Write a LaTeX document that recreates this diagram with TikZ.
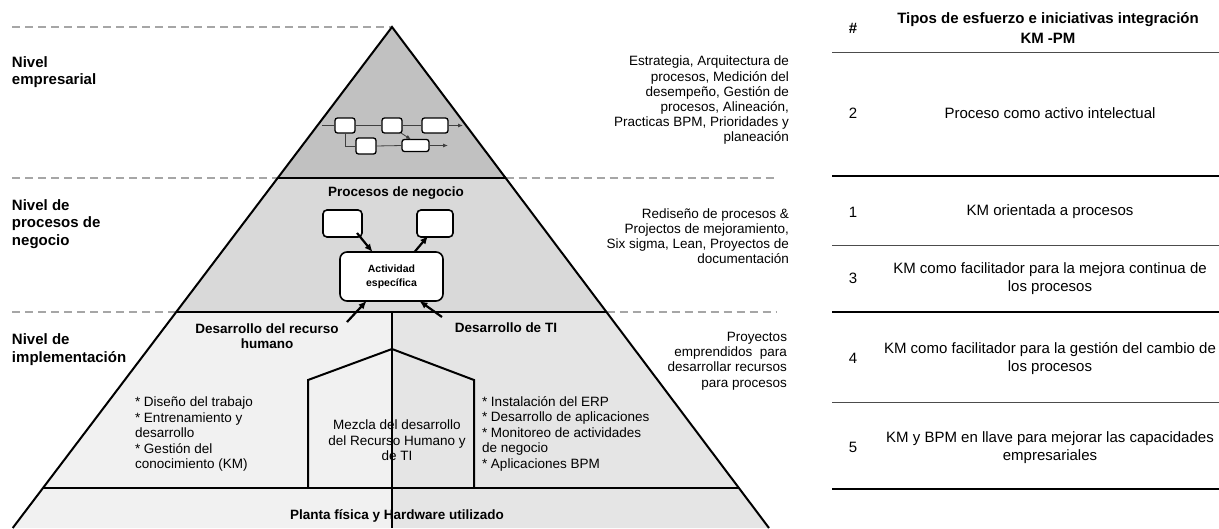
\documentclass[tikz,border=0pt]{standalone}
\usepackage{fontspec}
\setmainfont{Liberation Sans}
\usetikzlibrary{arrows.meta,calc}
\definecolor{topgray}{gray}{0.755}
\definecolor{midgray}{gray}{0.85}
\definecolor{lowlight}{gray}{0.945}
\definecolor{lowdark}{gray}{0.9}
\definecolor{guidegray}{gray}{0.65}
\begin{document}
\begin{tikzpicture}[x=1pt,y=-1pt,
  every node/.style={inner sep=0pt, outer sep=0pt},
  lvl/.style={font=\fontsize{15}{17.5}\selectfont\bfseries, align=left, anchor=west},
  desc/.style={font=\fontsize{13.5}{15.2}\selectfont, align=right, anchor=east},
  head/.style={font=\fontsize{13.5}{15.5}\selectfont\bfseries, align=center},
  body/.style={font=\fontsize{13.5}{15.5}\selectfont},
  tbl/.style={font=\fontsize{15}{18}\selectfont, align=center},
  tblhead/.style={font=\fontsize{15}{20}\selectfont\bfseries, align=center},
  pbox/.style={draw=black, line width=1.3pt, fill=white, rounded corners=2.5pt},
  flow/.style={draw=black!75, line width=0.8pt},
  flowarrow/.style={flow, -{Latex[length=5pt,width=4pt]}},
  bigarrow/.style={draw=black, line width=2.2pt, -{Latex[length=8pt,width=7pt]}},
  guide/.style={draw=guidegray, line width=1.5pt, dash pattern=on 8pt off 5pt},
  edge/.style={draw=black, line width=2pt},
  thinrule/.style={draw=black!70, line width=1pt},
  thickrule/.style={draw=black, line width=2pt}]
\useasboundingbox (0,0) rectangle (1219,528);

% ---- pyramid corner points ----
\coordinate (apex) at (392,27);
\coordinate (l1) at (277.7,178); \coordinate (r1) at (505.7,178);
\coordinate (l2) at (176.3,312); \coordinate (r2) at (606.6,312);
\coordinate (l3) at (43,488);    \coordinate (r3) at (739,488);
\coordinate (l4) at (12.7,528);  \coordinate (r4) at (769,528);
\coordinate (m2) at (392,312); \coordinate (m3) at (392,488); \coordinate (m4) at (392,528);

% ---- level fills ----
\fill[topgray] (apex) -- (r1) -- (l1) -- cycle;
\fill[midgray] (l1) -- (r1) -- (r2) -- (l2) -- cycle;
\fill[lowlight] (l2) -- (m2) -- (m3) -- (l3) -- cycle;
\fill[lowdark] (m2) -- (r2) -- (r3) -- (m3) -- cycle;
\fill[lowlight] (l3) -- (m3) -- (m4) -- (l4) -- cycle;
\fill[lowdark] (m3) -- (r3) -- (r4) -- (m4) -- cycle;

% ---- dashed level guides ----
\draw[guide] (12,27) -- (apex);
\draw[guide] (12,178) -- (l1);
\draw[guide] (r1) -- (778,178);
\draw[guide] (12,312) -- (l2);
\draw[guide] (r2) -- (776,312);

% ---- pyramid outline and dividers ----
\draw[edge] (l4) -- (apex) -- (r4);
\draw[edge] (l1) -- (r1);
\draw[edge] (l2) -- (r2);
\draw[edge] (l3) -- (r3);
\draw[draw=black, line width=1.5pt] (m2) -- (m4);
\draw[edge, line join=miter] (308,488) -- (308,380) -- (392,349) -- (474,380) -- (474,488);

% ---- level names ----
\node[lvl] (nv1) at (12,72) {Nivel\\empresarial};
\node[lvl] (nv2) at (12,224) {Nivel de\\procesos de\\negocio};
\node[lvl] (nv3) at (12,349.5) {Nivel de\\implementación};

% ---- level descriptions ----
\node[desc] (d1) at (789,100.5) {Estrategia, Arquitectura de\\procesos, Medición del\\desempeño, Gestión de\\procesos, Alineación,\\Practicas BPM, Prioridades y\\planeación};
\node[desc] (d2) at (789,236) {Rediseño de procesos \&\\Projectos de mejoramiento,\\Six sigma, Lean, Proyectos de\\documentación};
\node[desc] (d3) at (787,361) {Proyectos\\emprendidos\ \ para\\desarrollar recursos\\para procesos};

% ---- enterprise level: process map ----
\node[pbox, minimum width=20pt, minimum height=15pt] (pa) at (345,125.5) {};
\node[pbox, minimum width=20pt, minimum height=15pt] (pb) at (392,125.5) {};
\node[pbox, minimum width=26pt, minimum height=15pt] (pc) at (435,125.5) {};
\node[pbox, minimum width=20pt, minimum height=16pt] (pd) at (366,146) {};
\node[pbox, minimum width=27pt, minimum height=12pt] (pe) at (415.5,145.5) {};
\coordinate (pin) at (322,125.5);
\coordinate (pout1) at (463,125.5);
\coordinate (pout2) at (448,145.5);
\draw[flow] (pin) -- (pa.west);
\draw[flow] (pa.east) -- (pb.west);
\draw[flow] (pb.east) -- (pc.west);
\draw[flowarrow] (pc.east) -- (pout1);
\draw[flow] (pa.south) |- (pd.west);
\draw[flow] (pd.east) -- (pe.west);
\draw[flowarrow] (pe.east) -- (pout2);
\draw[flowarrow] ($(pb.south east)+(-1,0)$) -- ($(pe.north west)+(9,0)$);

% ---- business process level ----
\node[head] (bp) at (396,193.5) {Procesos de negocio};
\node[pbox, line width=1.6pt, rounded corners=4pt, minimum width=39pt, minimum height=27pt] (bl) at (342.5,223.5) {};
\node[pbox, line width=1.6pt, rounded corners=4pt, minimum width=36pt, minimum height=27pt] (br) at (435,223.5) {};
\node[pbox, line width=1.6pt, rounded corners=7pt, minimum width=103pt, minimum height=49pt,
      font=\fontsize{10.5}{14}\selectfont\bfseries, align=center] (act) at (391.5,276.5) {Actividad\\específica};
\draw[bigarrow] ($(bl.south east)+(-5,-4)$) -- ($(act.north)+(-19,0)$);
\draw[bigarrow] ($(act.north)+(23,0)$) -- ($(br.south)+(-7,-1)$);

% ---- implementation level ----
\node[head] (hr) at (267,336) {Desarrollo del recurso\\humano};
\node[head] (ti) at (506,327.5) {Desarrollo de TI};
\coordinate (hrtail) at (347,322);
\coordinate (titail) at (442,317);
\draw[bigarrow] (hrtail) -- ($(act.south)+(-25,0)$);
\draw[bigarrow] (titail) -- ($(act.south)+(28,0)$);

\node[body, align=left, anchor=west] (hrlist) at (135,434) {* Diseño del trabajo\\* Entrenamiento y\\desarrollo\\* Gestión del\\conocimiento (KM)};
\node[body, align=center] (mix) at (397,440.5) {Mezcla del desarrollo\\del Recurso Humano y\\de TI};
\node[body, align=left, anchor=west] (tilist) at (482,433.5) {* Instalación del ERP\\* Desarrollo de aplicaciones\\* Monitoreo de actividades\\de negocio\\* Aplicaciones BPM};

\node[head] (plant) at (397,516) {Planta física y Hardware utilizado};

% ---- initiatives table ----
\node[tblhead] (th) at (853,28) {\#};
\node[tblhead] (tt) at (1048,28) {Tipos de esfuerzo e iniciativas integración\\KM -PM};
\draw[thinrule] (832,52) -- (1219,52);

\node[tbl] (n2) at (853,113) {2};
\node[tbl] (t2) at (1050,113) {Proceso como activo intelectual};
\draw[thickrule] (832,176) -- (1219,176);

\node[tbl] (n1) at (853,212) {1};
\node[tbl] (t1) at (1050,212) {KM orientada a procesos};
\draw[thinrule] (832,245) -- (1219,245);

\node[tbl] (n3) at (853,278) {3};
\node[tbl] (t3) at (1050,279) {KM como facilitador para la mejora continua de\\los procesos};
\draw[thickrule] (832,312) -- (1219,312);

\node[tbl] (n4) at (853,358) {4};
\node[tbl] (t4) at (1050,359) {KM como facilitador para la gestión del cambio de\\los procesos};
\draw[thinrule] (832,402) -- (1219,402);

\node[tbl] (n5) at (853,447) {5};
\node[tbl] (t5) at (1050,447.5) {KM y BPM en llave para mejorar las capacidades\\empresariales};
\draw[thickrule] (832,489) -- (1219,489);
\end{tikzpicture}
\end{document}
